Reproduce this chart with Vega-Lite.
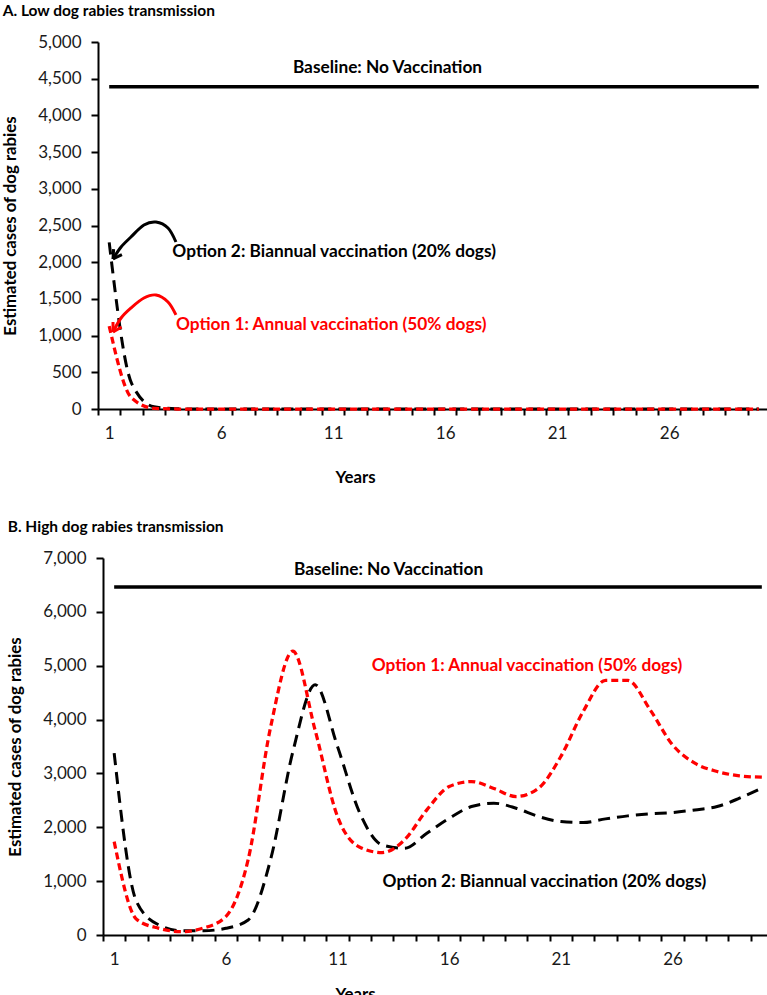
{
  "$schema": "https://vega.github.io/schema/vega-lite/v6.json",
  "background": "white",
  "padding": {"left": 2, "top": 3, "right": 0, "bottom": 0},
  "config": {
    "view": {"stroke": null},
    "font": "Lato",
    "axis": {"grid": false, "domainColor": "#000", "tickColor": "#000", "labelColor": "#1a1a1a", "titleColor": "#000", "labelFont": "Lato", "titleFont": "Lato", "domainWidth": 2, "tickWidth": 2, "labelFontSize": 17, "titleFontSize": 16.8, "titleFontWeight": "bold"},
    "title": {"font": "Lato", "fontSize": 15.5, "fontWeight": "bold", "color": "#000", "anchor": "start", "frame": "bounds"},
    "text": {"font": "Lato"}
  },
  "datasets": {
    "lowLines": [
      {"year": 1, "Baseline": 4390, "Option 1": 1130, "Option 2": 2270},
      {"year": 2, "Baseline": 4390, "Option 1": 150, "Option 2": 350},
      {"year": 3, "Baseline": 4390, "Option 1": 10, "Option 2": 30},
      {"year": 4, "Baseline": 4390, "Option 1": 0, "Option 2": 5},
      {"year": 5, "Baseline": 4390, "Option 1": 0, "Option 2": 0},
      {"year": 6, "Baseline": 4390, "Option 1": 0, "Option 2": 0},
      {"year": 7, "Baseline": 4390, "Option 1": 0, "Option 2": 0},
      {"year": 8, "Baseline": 4390, "Option 1": 0, "Option 2": 0},
      {"year": 9, "Baseline": 4390, "Option 1": 0, "Option 2": 0},
      {"year": 10, "Baseline": 4390, "Option 1": 0, "Option 2": 0},
      {"year": 11, "Baseline": 4390, "Option 1": 0, "Option 2": 0},
      {"year": 12, "Baseline": 4390, "Option 1": 0, "Option 2": 0},
      {"year": 13, "Baseline": 4390, "Option 1": 0, "Option 2": 0},
      {"year": 14, "Baseline": 4390, "Option 1": 0, "Option 2": 0},
      {"year": 15, "Baseline": 4390, "Option 1": 0, "Option 2": 0},
      {"year": 16, "Baseline": 4390, "Option 1": 0, "Option 2": 0},
      {"year": 17, "Baseline": 4390, "Option 1": 0, "Option 2": 0},
      {"year": 18, "Baseline": 4390, "Option 1": 0, "Option 2": 0},
      {"year": 19, "Baseline": 4390, "Option 1": 0, "Option 2": 0},
      {"year": 20, "Baseline": 4390, "Option 1": 0, "Option 2": 0},
      {"year": 21, "Baseline": 4390, "Option 1": 0, "Option 2": 0},
      {"year": 22, "Baseline": 4390, "Option 1": 0, "Option 2": 0},
      {"year": 23, "Baseline": 4390, "Option 1": 0, "Option 2": 0},
      {"year": 24, "Baseline": 4390, "Option 1": 0, "Option 2": 0},
      {"year": 25, "Baseline": 4390, "Option 1": 0, "Option 2": 0},
      {"year": 26, "Baseline": 4390, "Option 1": 0, "Option 2": 0},
      {"year": 27, "Baseline": 4390, "Option 1": 0, "Option 2": 0},
      {"year": 28, "Baseline": 4390, "Option 1": 0, "Option 2": 0},
      {"year": 29, "Baseline": 4390, "Option 1": 0, "Option 2": 0},
      {"year": 30, "Baseline": 4390, "Option 1": 0, "Option 2": 0}
    ],
    "highLines": [
      {"year": 1, "Baseline": 6460, "Option 1": 1734, "Option 2": 3377},
      {"year": 2, "Baseline": 6460, "Option 1": 292, "Option 2": 620},
      {"year": 3, "Baseline": 6460, "Option 1": 124, "Option 2": 186},
      {"year": 4, "Baseline": 6460, "Option 1": 62, "Option 2": 80},
      {"year": 5, "Baseline": 6460, "Option 1": 130, "Option 2": 80},
      {"year": 6, "Baseline": 6460, "Option 1": 341, "Option 2": 124},
      {"year": 7, "Baseline": 6460, "Option 1": 1400, "Option 2": 279},
      {"year": 8, "Baseline": 6460, "Option 1": 3850, "Option 2": 1394},
      {"year": 9, "Baseline": 6460, "Option 1": 5270, "Option 2": 3400},
      {"year": 10, "Baseline": 6460, "Option 1": 3800, "Option 2": 4647},
      {"year": 11, "Baseline": 6460, "Option 1": 2200, "Option 2": 3500},
      {"year": 12, "Baseline": 6460, "Option 1": 1630, "Option 2": 2262},
      {"year": 13, "Baseline": 6460, "Option 1": 1530, "Option 2": 1673},
      {"year": 14, "Baseline": 6460, "Option 1": 1766, "Option 2": 1611},
      {"year": 15, "Baseline": 6460, "Option 1": 2323, "Option 2": 1890},
      {"year": 16, "Baseline": 6460, "Option 1": 2757, "Option 2": 2168},
      {"year": 17, "Baseline": 6460, "Option 1": 2850, "Option 2": 2385},
      {"year": 18, "Baseline": 6460, "Option 1": 2720, "Option 2": 2447},
      {"year": 19, "Baseline": 6460, "Option 1": 2571, "Option 2": 2354},
      {"year": 20, "Baseline": 6460, "Option 1": 2726, "Option 2": 2200},
      {"year": 21, "Baseline": 6460, "Option 1": 3314, "Option 2": 2107},
      {"year": 22, "Baseline": 6460, "Option 1": 4150, "Option 2": 2088},
      {"year": 23, "Baseline": 6460, "Option 1": 4727, "Option 2": 2156},
      {"year": 24, "Baseline": 6460, "Option 1": 4727, "Option 2": 2212},
      {"year": 25, "Baseline": 6460, "Option 1": 4180, "Option 2": 2250},
      {"year": 26, "Baseline": 6460, "Option 1": 3532, "Option 2": 2274},
      {"year": 27, "Baseline": 6460, "Option 1": 3190, "Option 2": 2323},
      {"year": 28, "Baseline": 6460, "Option 1": 3036, "Option 2": 2385},
      {"year": 29, "Baseline": 6460, "Option 1": 2955, "Option 2": 2540},
      {"year": 30, "Baseline": 6460, "Option 1": 2930, "Option 2": 2726}
    ],
    "lowText": [
      {"series": "Baseline", "label": "Baseline: No Vaccination", "pos": 9.2, "value": 4640},
      {"series": "Option 2", "label": "Option 2: Biannual vaccination (20% dogs)", "pos": 3.82, "value": 2140},
      {"series": "Option 1", "label": "Option 1: Annual vaccination (50% dogs)", "pos": 3.98, "value": 1150}
    ],
    "highText": [
      {"series": "Baseline", "label": "Baseline: No Vaccination", "pos": 9.05, "value": 6784},
      {"series": "Option 1", "label": "Option 1: Annual vaccination (50% dogs)", "pos": 12.53, "value": 5000},
      {"series": "Option 2", "label": "Option 2: Biannual vaccination (20% dogs)", "pos": 13.02, "value": 985}
    ],
    "lowArrows": [
      {"series": "Option 2", "part": "o2curve", "ord": 1, "pos": 3.98, "value": 2275},
      {"series": "Option 2", "part": "o2curve", "ord": 2, "pos": 3.625, "value": 2466},
      {"series": "Option 2", "part": "o2curve", "ord": 3, "pos": 3.09, "value": 2547},
      {"series": "Option 2", "part": "o2curve", "ord": 4, "pos": 2.55, "value": 2506},
      {"series": "Option 2", "part": "o2curve", "ord": 5, "pos": 1.97, "value": 2343},
      {"series": "Option 2", "part": "o2curve", "ord": 6, "pos": 1.53, "value": 2207},
      {"series": "Option 2", "part": "o2curve", "ord": 7, "pos": 1.17, "value": 2044},
      {"series": "Option 2", "part": "o2arm1", "ord": 1, "pos": 1.17, "value": 2044},
      {"series": "Option 2", "part": "o2arm1", "ord": 2, "pos": 1.567, "value": 2104},
      {"series": "Option 2", "part": "o2arm2", "ord": 1, "pos": 1.17, "value": 2044},
      {"series": "Option 2", "part": "o2arm2", "ord": 2, "pos": 1.196, "value": 2179},
      {"series": "Option 1", "part": "o1curve", "ord": 1, "pos": 3.98, "value": 1281},
      {"series": "Option 1", "part": "o1curve", "ord": 2, "pos": 3.625, "value": 1458},
      {"series": "Option 1", "part": "o1curve", "ord": 3, "pos": 3.09, "value": 1553},
      {"series": "Option 1", "part": "o1curve", "ord": 4, "pos": 2.55, "value": 1512},
      {"series": "Option 1", "part": "o1curve", "ord": 5, "pos": 1.97, "value": 1376},
      {"series": "Option 1", "part": "o1curve", "ord": 6, "pos": 1.53, "value": 1240},
      {"series": "Option 1", "part": "o1curve", "ord": 7, "pos": 1.17, "value": 1049},
      {"series": "Option 1", "part": "o1arm1", "ord": 1, "pos": 1.17, "value": 1049},
      {"series": "Option 1", "part": "o1arm1", "ord": 2, "pos": 1.554, "value": 1117},
      {"series": "Option 1", "part": "o1arm2", "ord": 1, "pos": 1.17, "value": 1049},
      {"series": "Option 1", "part": "o1arm2", "ord": 2, "pos": 1.17, "value": 1185}
    ]
  },
  "spacing": 33,
  "vconcat": [
    {
      "title": {"text": "A. Low dog rabies transmission", "offset": 14},
      "width": 672,
      "height": 367,
      "encoding": {
        "y": {"field": "value", "type": "quantitative", "scale": {"domain": [0, 5000], "nice": false},
          "axis": {"title": "Estimated cases of dog rabies", "values": [0, 500, 1000, 1500, 2000, 2500, 3000, 3500, 4000, 4500, 5000], "format": ",d", "tickSize": 7, "labelPadding": 10, "titlePadding": 18}}
      },
      "resolve": {"scale": {"x": "independent"}},
      "layer": [
        {
          "data": {"name": "lowLines"},
          "transform": [{"fold": ["Baseline", "Option 2", "Option 1"], "as": ["series", "value"]}],
          "mark": {"type": "line", "interpolate": "monotone"},
          "encoding": {
            "x": {"field": "year", "type": "ordinal", "scale": {"type": "band", "paddingInner": 0, "paddingOuter": 0},
              "axis": {"title": "Years", "tickBand": "extent", "labelAngle": 0, "labelOverlap": false, "labelExpr": "(datum.value - 1) % 5 == 0 ? datum.label : ''", "tickSize": 6, "labelPadding": 10, "titleX": 257, "titleY": 68, "titleBaseline": "middle"}},
            "color": {"field": "series", "type": "nominal", "scale": {"domain": ["Baseline", "Option 1", "Option 2"], "range": ["#000000", "#ff0000", "#000000"]}, "legend": null},
            "strokeDash": {"field": "series", "type": "nominal", "scale": {"domain": ["Baseline", "Option 1", "Option 2"], "range": [[1, 0], [7, 4], [12, 7]]}, "legend": null},
            "strokeWidth": {"field": "series", "type": "nominal", "scale": {"domain": ["Baseline", "Option 1", "Option 2"], "range": [3.5, 3, 3]}, "legend": null}
          }
        },
        {
          "data": {"name": "lowArrows"},
          "mark": {"type": "line", "interpolate": "cardinal", "strokeWidth": 3},
          "encoding": {
            "x": {"field": "pos", "type": "quantitative", "scale": {"domain": [0.5, 30.5], "nice": false, "zero": false}, "axis": null},
            "detail": {"field": "part"},
            "order": {"field": "ord"},
            "color": {"field": "series", "type": "nominal", "scale": {"domain": ["Baseline", "Option 1", "Option 2"], "range": ["#000000", "#ff0000", "#000000"]}, "legend": null}
          }
        },
        {
          "data": {"name": "lowText"},
          "mark": {"type": "text", "align": "left", "baseline": "middle", "fontSize": 17.3, "fontWeight": "bold"},
          "encoding": {
            "x": {"field": "pos", "type": "quantitative", "scale": {"domain": [0.5, 30.5], "nice": false, "zero": false}, "axis": null},
            "text": {"field": "label"},
            "color": {"field": "series", "type": "nominal", "scale": {"domain": ["Baseline", "Option 1", "Option 2"], "range": ["#000000", "#ff0000", "#000000"]}, "legend": null}
          }
        }
      ]
    },
    {
      "title": {"text": "B. High dog rabies transmission", "offset": 14},
      "width": 675,
      "height": 377,
      "encoding": {
        "y": {"field": "value", "type": "quantitative", "scale": {"domain": [0, 7000], "nice": false},
          "axis": {"title": "Estimated cases of dog rabies", "values": [0, 1000, 2000, 3000, 4000, 5000, 6000, 7000], "format": ",d", "tickSize": 7, "labelPadding": 10, "titlePadding": 18, "offset": -5}}
      },
      "resolve": {"scale": {"x": "independent"}},
      "layer": [
        {
          "data": {"name": "highLines"},
          "transform": [{"fold": ["Baseline", "Option 2", "Option 1"], "as": ["series", "value"]}],
          "mark": {"type": "line", "interpolate": "monotone"},
          "encoding": {
            "x": {"field": "year", "type": "ordinal", "scale": {"type": "band", "paddingInner": 0, "paddingOuter": 0, "range": [5, 675]},
              "axis": {"title": "Years", "tickBand": "extent", "labelAngle": 0, "labelOverlap": false, "labelExpr": "(datum.value - 1) % 5 == 0 ? datum.label : ''", "tickSize": 6, "labelPadding": 10, "titleX": 257, "titleY": 59, "titleBaseline": "middle"}},
            "color": {"field": "series", "type": "nominal", "scale": {"domain": ["Baseline", "Option 1", "Option 2"], "range": ["#000000", "#ff0000", "#000000"]}, "legend": null},
            "strokeDash": {"field": "series", "type": "nominal", "scale": {"domain": ["Baseline", "Option 1", "Option 2"], "range": [[1, 0], [7, 4], [12, 7]]}, "legend": null},
            "strokeWidth": {"field": "series", "type": "nominal", "scale": {"domain": ["Baseline", "Option 1", "Option 2"], "range": [3.5, 3, 3]}, "legend": null}
          }
        },
        {
          "data": {"name": "highText"},
          "mark": {"type": "text", "align": "left", "baseline": "middle", "fontSize": 17.3, "fontWeight": "bold"},
          "encoding": {
            "x": {"field": "pos", "type": "quantitative", "scale": {"domain": [0.5, 30.5], "nice": false, "zero": false, "range": [5, 675]}, "axis": null},
            "text": {"field": "label"},
            "color": {"field": "series", "type": "nominal", "scale": {"domain": ["Baseline", "Option 1", "Option 2"], "range": ["#000000", "#ff0000", "#000000"]}, "legend": null}
          }
        }
      ]
    }
  ]
}
